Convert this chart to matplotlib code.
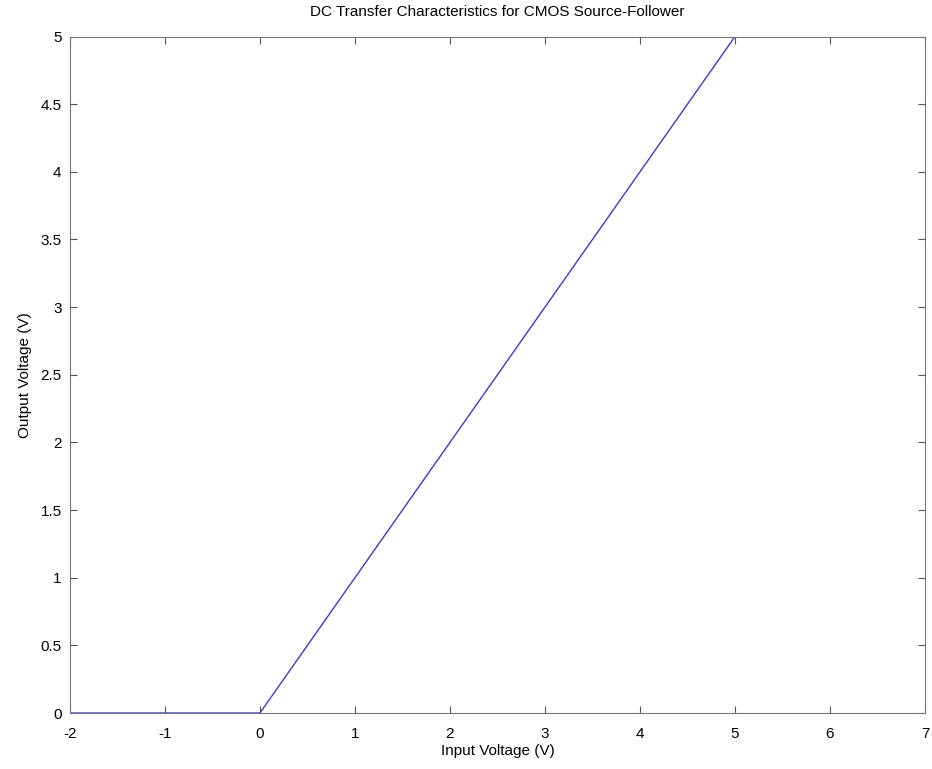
import numpy as np
import matplotlib.pyplot as plt

plt.rcParams['font.family'] = ['Liberation Sans', 'DejaVu Sans']
plt.rcParams['axes.unicode_minus'] = False

# входное и выходное напряжение, В
vin = [-2, -1, 0, 1, 2, 3, 4, 5]
vout = [0, 0, 0, 1, 2, 3, 4, 5]

fig = plt.figure(figsize=(9.32, 7.69), dpi=100)
ax = fig.add_axes([0.075, 0.0728, 0.9175, 0.8797])

ax.plot(vin, vout, color='#3a3acc', linewidth=1.0)

ax.set_xlim(-2, 7)
ax.set_ylim(0, 5)
ax.set_xticks(np.arange(-2, 8, 1))
ax.set_yticks(np.arange(0, 5.5, 0.5))
ax.set_yticklabels(['0', '0.5', '1', '1.5', '2', '2.5', '3', '3.5', '4', '4.5', '5'])

ax.tick_params(direction='in', top=True, right=True, length=5, labelsize=11, color='#555555')
ax.tick_params(axis='x', pad=10)
ax.tick_params(axis='y', pad=6)
for s in ax.spines.values():
    s.set_color('#777777')

ax.set_xlabel('Input Voltage (V)', fontsize=11, labelpad=2)
ax.set_ylabel('Output Voltage (V)', fontsize=11, labelpad=6)
ax.set_title('DC Transfer Characteristics for CMOS Source-Follower', fontsize=11, pad=15)

fig.savefig('out.png', dpi=100)
